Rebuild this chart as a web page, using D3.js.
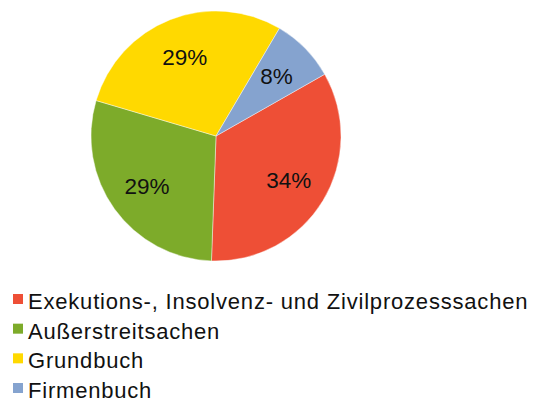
<!DOCTYPE html>
<html>
<head>
<meta charset="utf-8">
<script src="https://cdn.jsdelivr.net/npm/d3@7"></script>
<style>
  body { margin: 0; background: #fff; }
  svg { display: block; font-family: "Liberation Sans", Arial, sans-serif; }
</style>
</head>
<body>
<svg id="chart"></svg>
<script>
const categories = ['Exekutions-, Insolvenz- und Zivilprozesssachen', 'Außerstreitsachen', 'Grundbuch', 'Firmenbuch'];
const shares = [33.8, 29.0, 28.9, 8.3];
const colors = ['#EE4F36', '#7DAB2A', '#FFD900', '#85A3CF'];

const width = 533, height = 403;
const cx = 216, cy = 136, radius = 125;
const startDeg = 60.4;

const svg = d3.select('#chart')
  .attr('width', width)
  .attr('height', height)
  .attr('viewBox', [0, 0, width, height]);

const data = categories.map((c, i) => ({ name: c, value: shares[i], color: colors[i] }));

const pie = d3.pie()
  .sort(null)
  .value((d) => d.value)
  .startAngle(startDeg * Math.PI / 180)
  .endAngle(startDeg * Math.PI / 180 + 2 * Math.PI);

const arc = d3.arc().innerRadius(0).outerRadius(radius);
const labelArc = d3.arc().innerRadius(170).outerRadius(0); // centroid at r=85

const g = svg.append('g').attr('transform', `translate(${cx},${cy})`);

const arcs = pie(data);

g.selectAll('path')
  .data(arcs)
  .join('path')
  .attr('d', arc)
  .attr('fill', (d) => d.data.color)
  .attr('stroke', '#fff')
  .attr('stroke-width', 0.6)
  .attr('stroke-opacity', 0.7);

g.selectAll('text.lbl')
  .data(arcs)
  .join('text')
  .attr('class', 'lbl')
  .attr('transform', (d) => `translate(${labelArc.centroid(d)})`)
  .attr('text-anchor', 'middle')
  .attr('dy', '0.36em')
  .style('font-size', '22.5px')
  .style('fill', '#111')
  .text((d) => Math.round(d.data.value) + '%');

/* legend */
const legend = svg.append('g');
const rowY = d3.scaleLinear().domain([0, 3]).range([309, 398]);

legend.selectAll('rect')
  .data(data)
  .join('rect')
  .attr('x', 13)
  .attr('y', (d, i) => rowY(i) - 15)
  .attr('width', 10)
  .attr('height', 10)
  .attr('fill', (d) => d.color);

legend.selectAll('text')
  .data(data)
  .join('text')
  .attr('x', 28)
  .attr('y', (d, i) => rowY(i))
  .style('font-size', '22px')
  .style('letter-spacing', '0.8px')
  .style('fill', '#111')
  .text((d) => d.name);
</script>
</body>
</html>
